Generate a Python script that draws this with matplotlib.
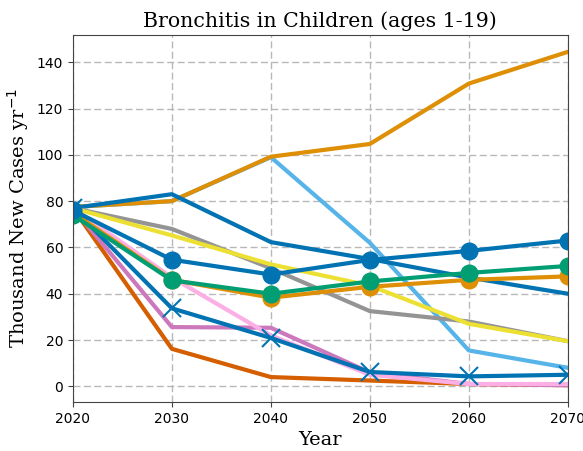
import matplotlib
matplotlib.use("Agg")
import matplotlib.pyplot as plt

years = [2020, 2030, 2040, 2050, 2060, 2070]

# scenario series (thousand new cases per year)
light_blue = [77.5, 80, 99, 62, 15.5, 8]
orange_top = [77.5, 80, 99.2, 104.7, 130.8, 144.5]
blue_plain = [77, 83, 62.3, 55, 47, 40]
gray = [77, 68, 51, 32.5, 28, 19.5]
yellow = [77, 65.2, 52.7, 43.5, 27, 19.5]
red = [77, 16.2, 4, 2.5, 1, 0.5]
purple = [77, 25.6, 25.3, 6, 1, 0.5]
pink = [77, 47, 22, 5, 1, 1]
blue_x = [77, 33.7, 20.9, 6.2, 4.3, 5]
orange_dot = [75, 46, 38.3, 43, 46, 47.5]
green_dot = [74, 45.8, 40, 45.3, 49, 52]
blue_dot = [76, 54.7, 48.3, 54.6, 58.5, 63]

CB = {"blue": "#0173B2", "orange": "#DE8F05", "green": "#029E73", "red": "#D55E00",
      "purple": "#CC78BC", "pink": "#FBAFE4", "gray": "#949494", "yellow": "#ECE133",
      "lblue": "#56B4E9"}

fig = plt.figure(figsize=(5.83, 4.51), dpi=100)
ax = fig.add_axes([0.125, 0.109, 0.849, 0.813])

lw = 3
ax.plot(years, light_blue, color=CB["lblue"], lw=lw)
ax.plot(years, orange_top, color=CB["orange"], lw=lw)
ax.plot(years, blue_plain, color=CB["blue"], lw=lw)
ax.plot(years, gray, color=CB["gray"], lw=lw)
ax.plot(years, yellow, color=CB["yellow"], lw=lw)
ax.plot(years, red, color=CB["red"], lw=lw)
ax.plot(years, purple, color=CB["purple"], lw=lw)
ax.plot(years, pink, color=CB["pink"], lw=lw)
ax.plot(years, blue_x, color=CB["blue"], lw=lw, marker="x", ms=13, mew=1.5)
ax.plot(years, orange_dot, color=CB["orange"], lw=lw, marker="o", ms=12)
ax.plot(years, green_dot, color=CB["green"], lw=lw, marker="o", ms=12)
ax.plot(years, blue_dot, color=CB["blue"], lw=lw, marker="o", ms=12)

ax.set_xlim(2020, 2070)
ax.set_xticks(years)
ax.set_yticks(range(0, 141, 20))
ax.grid(True, color="#b8b8b8", lw=1, dashes=(5, 2.5))
ax.set_axisbelow(True)
for s in ax.spines.values():
    s.set_color("#444444")
ax.tick_params(labelsize=10, color="#444444")

ax.set_title("Bronchitis in Children (ages 1-19)", family="DejaVu Serif", fontsize=14.8)
ax.set_xlabel("Year", family="DejaVu Serif", fontsize=14)
ax.set_ylabel("Thousand New Cases yr$^{-1}$", family="DejaVu Serif", fontsize=14)

fig.savefig("out.png", dpi=100)
